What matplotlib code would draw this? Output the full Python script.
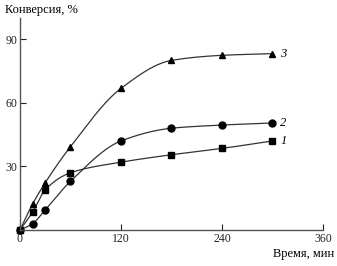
import numpy as np
import matplotlib
matplotlib.use("Agg")
import matplotlib.pyplot as plt

plt.rcParams['font.family'] = ['Liberation Serif', 'DejaVu Serif']

# time, min
t = [0, 15, 30, 60, 120, 180, 240, 300]
# conversion, %
conv1 = [0, 8.5, 19, 27, 32, 35.5, 38.5, 42]
conv2 = [0, 3, 9.5, 23, 42, 48, 49.5, 50.5]
conv3 = [0, 12.3, 22.3, 39.3, 66.8, 80, 82.4, 83.2]
curve_labels = ['1', '2', '3']
markers = ['s', 'o', '^']


def pchip(x, y, xs):
    # monotone cubic interpolation, only for drawing the smooth line
    x = np.asarray(x, float)
    y = np.asarray(y, float)
    h = np.diff(x)
    d = np.diff(y) / h
    m = np.zeros_like(y)
    for k in range(1, len(x) - 1):
        if d[k - 1] * d[k] > 0:
            w1 = 2 * h[k] + h[k - 1]
            w2 = h[k] + 2 * h[k - 1]
            m[k] = (w1 + w2) / (w1 / d[k - 1] + w2 / d[k])
    m[0] = d[0]
    m[-1] = d[-1]
    idx = np.clip(np.searchsorted(x, xs) - 1, 0, len(x) - 2)
    hh = h[idx]
    s = (xs - x[idx]) / hh
    h00 = 2 * s**3 - 3 * s**2 + 1
    h10 = s**3 - 2 * s**2 + s
    h01 = -2 * s**3 + 3 * s**2
    h11 = s**3 - s**2
    return h00 * y[idx] + h10 * hh * m[idx] + h01 * y[idx + 1] + h11 * hh * m[idx + 1]


fig = plt.figure(figsize=(3.37, 2.66), dpi=100)
ax = fig.add_axes([0.0593, 0.1353, 0.8991, 0.797])

xs = np.linspace(0, 300, 400)
for vals, mk, lab in zip([conv1, conv2, conv3], markers, curve_labels):
    ax.plot(xs, pchip(t, vals, xs), color='#333333', lw=0.9)
    ax.plot(t, vals, linestyle='none', marker=mk, color='black', markersize=5, clip_on=False)
    ax.text(309, vals[-1], lab, fontsize=9, style='italic', va='center', ha='left')

ax.set_xlim(0, 360)
ax.set_ylim(0, 100)
ax.set_xticks([0, 120, 240, 360])
ax.set_yticks([30, 60, 90])
ax.tick_params(direction='in', length=4, width=0.8, labelsize=8.5, colors='#222222', pad=2)
ax.spines['top'].set_visible(False)
ax.spines['right'].set_visible(False)
for sp in ['left', 'bottom']:
    ax.spines[sp].set_color('#555555')
    ax.spines[sp].set_linewidth(1.0)

fig.text(5 / 337, 1 - 10 / 266, 'Конверсия, %', fontsize=9, va='center', ha='left')
fig.text(334 / 337, 1 - 254 / 266, 'Время, мин', fontsize=9, va='center', ha='right')

fig.savefig('out.png', dpi=100)
